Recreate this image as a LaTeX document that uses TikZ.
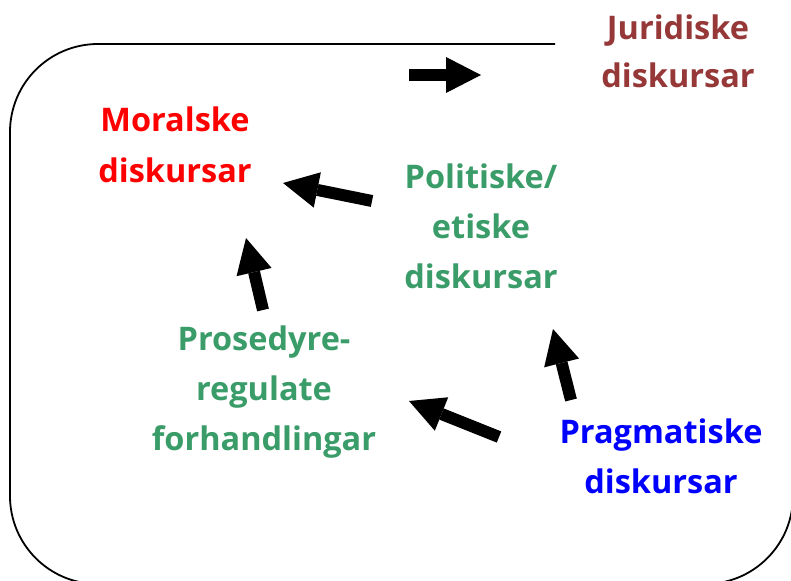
\documentclass[tikz,border=0pt]{standalone}
\usepackage{fontspec}
\setmainfont{Open Sans}
\usetikzlibrary{arrows.meta}
\definecolor{jurcol}{RGB}{150,56,56}
\definecolor{polcol}{RGB}{58,156,104}
\definecolor{pracol}{RGB}{0,0,255}
\definecolor{morcol}{RGB}{255,0,0}
\begin{document}
\begin{tikzpicture}[x=1pt,y=-1pt,
  label/.style={font=\bfseries\fontsize{32.5}{50}\selectfont, align=center, anchor=base, inner sep=0pt},
  frameline/.style={line width=1.8pt, rounded corners=88pt},
  blockarrow/.style={line width=12pt, -{Triangle[length=35pt,width=36pt,line width=0pt]}}]
  \useasboundingbox (0,0) rectangle (791,580);
  \clip (0,0) rectangle (791,580);

  % open frame round the discourse cycle
  \draw[frameline] (555,44) -- (10,44) -- (10,584) -- (793,584) -- (793,380);

  % discourse types (placed by the baseline of the last line)
  \node[label, text=jurcol, font=\bfseries\fontsize{32.5}{48}\selectfont] (jur) at (678,88) {Juridiske\\diskursar};
  \node[label, text=morcol] (mor) at (175,182) {Moralske\\diskursar};
  \node[label, text=polcol] (pol) at (481,288) {Politiske/\\etiske\\diskursar};
  \node[label, text=polcol] (pro) at (264,450) {Prosedyre-\\regulate\\forhandlingar};
  \node[label, text=pracol] (pra) at (661,493) {Pragmatiske\\diskursar};

  % arrow end points
  \coordinate (a1s) at (409,75);  \coordinate (a1e) at (481,75);
  \coordinate (a2s) at (372,201); \coordinate (a2e) at (283,183);
  \coordinate (a3s) at (263,310); \coordinate (a3e) at (246,238);
  \coordinate (a4s) at (571,400); \coordinate (a4e) at (553,329);
  \coordinate (a5s) at (499,437); \coordinate (a5e) at (409,401);

  \draw[blockarrow] (a1s) -- (a1e);
  \draw[blockarrow] (a2s) -- (a2e);
  \draw[blockarrow] (a3s) -- (a3e);
  \draw[blockarrow] (a4s) -- (a4e);
  \draw[blockarrow] (a5s) -- (a5e);
\end{tikzpicture}
\end{document}
